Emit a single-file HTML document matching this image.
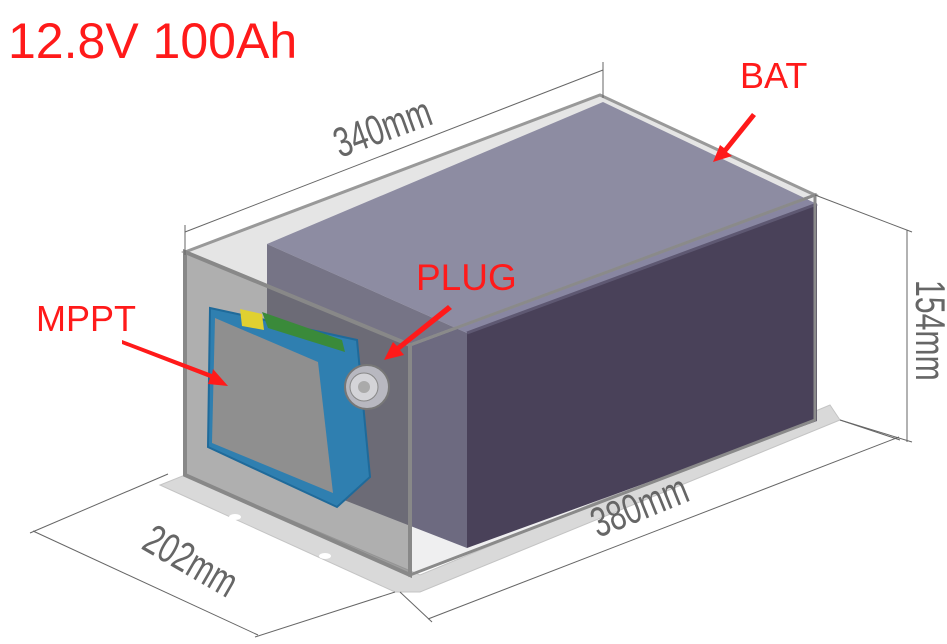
<!DOCTYPE html>
<html><head><meta charset="utf-8"><style>
html,body{margin:0;padding:0;background:#fff;}
svg{display:block}
.lbl{font-family:"Liberation Sans",sans-serif;fill:#ff1a1a;}
</style></head><body>
<svg width="947" height="644" viewBox="0 0 947 644" xmlns="http://www.w3.org/2000/svg">
<polygon points="160,485 395,592 420,592 840,420 830,405 420,575 185,475" fill="#d9d9d9" stroke="#c4c4c4"/>
<ellipse cx="235" cy="517" rx="6" ry="3" fill="#fff"/>
<ellipse cx="325" cy="556" rx="6" ry="3" fill="#fff"/>
<polygon points="267,244 603,102 817,204 467,333" fill="#8a88a6"/>
<polygon points="267,244 467,333 467,548 267,470" fill="#6b6880"/>
<polygon points="467,333 817,204 817,421 467,548" fill="#433a54"/>
<line x1="467" y1="333" x2="817" y2="204" stroke="#5b5470" stroke-width="3"/>
<polygon points="185,252 600,95 815,195 410,345" fill="rgba(150,150,150,0.25)" stroke="#999" stroke-width="3"/>
<polygon points="410,345 815,195 815,420 410,575" fill="rgba(120,120,130,0.12)" stroke="#8a8a8a" stroke-width="3"/>
<polygon points="185,252 410,345 410,575 185,475" fill="rgba(110,110,110,0.55)" stroke="#888" stroke-width="4"/>
<polygon points="210,308 357,340 370,477 337,507 208,447" fill="#2f7fb0" stroke="#1f6a9a" stroke-width="2"/>
<polygon points="262,312 342,340 345,352 268,328" fill="#3a8a3a"/>
<polygon points="240,309 262,314 264,330 242,326" fill="#e0d030"/>
<polygon points="215,318 318,362 333,493 212,443" fill="#8f8f8f"/>
<circle cx="367" cy="387" r="22" fill="#b8b8c0" stroke="#777" stroke-width="2"/>
<circle cx="364" cy="387" r="14" fill="#d4d4d8" stroke="#888"/>
<circle cx="364" cy="387" r="6" fill="#aaa"/>
<g stroke="#666" stroke-width="1" fill="none">
<line x1="185" y1="232" x2="603" y2="70"/>
<line x1="185" y1="225" x2="185" y2="255"/>
<line x1="603" y1="62" x2="603" y2="98"/>
<line x1="907" y1="230" x2="907" y2="442"/>
<line x1="815" y1="195" x2="912" y2="232"/>
<line x1="840" y1="420" x2="912" y2="442"/>
<line x1="428" y1="619" x2="899" y2="437"/>
<line x1="400" y1="592" x2="432" y2="622"/>
<line x1="840" y1="420" x2="900" y2="440"/>
<line x1="33" y1="531" x2="258" y2="635"/>
<line x1="168" y1="474" x2="30" y2="533"/>
<line x1="395" y1="592" x2="255" y2="637"/>
</g>
<g font-family="Liberation Sans,sans-serif" fill="#666" font-size="42">
<text transform="translate(340,158) rotate(-20) scale(0.72,1)">340mm</text>
<text transform="translate(916,280) rotate(90) scale(0.72,1)">154mm</text>
<text transform="translate(598,538) rotate(-22) scale(0.72,1)">380mm</text>
<text transform="translate(140,548) rotate(30) scale(0.72,1)">202mm</text>
</g>
<text class="lbl" x="8" y="58" font-size="50">12.8V 100Ah</text>
<text class="lbl" x="740" y="88" font-size="36">BAT</text>
<text class="lbl" x="416" y="290" font-size="37">PLUG</text>
<text class="lbl" x="36" y="331" font-size="36">MPPT</text>
<g fill="#ff1a1a">
<polygon points="752,113 756,116 727,152 732,156 713,162 720,145 724,148"/>
<polygon points="448,305 452,309 400,350 404,355 384,360 393,342 397,346"/>
<polygon points="122,340 122,344 210,378 208,384 228,386 213,369 212,374"/>
</g>
</svg>
</body></html>
